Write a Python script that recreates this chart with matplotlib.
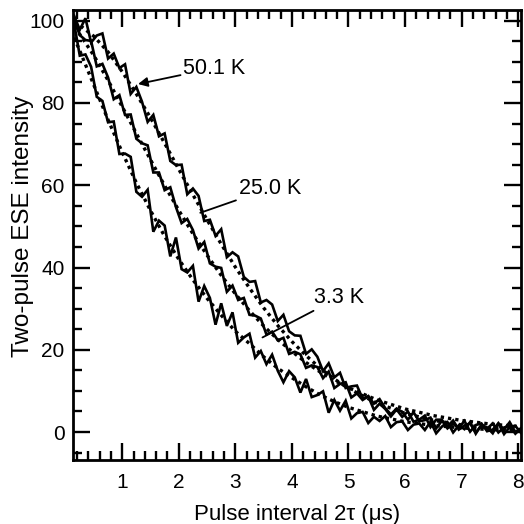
import numpy as np
import matplotlib
matplotlib.use("Agg")
import matplotlib.pyplot as plt
from matplotlib.ticker import MultipleLocator

plt.rcParams['font.family'] = ['Liberation Sans', 'DejaVu Sans']

# sampling grid of the measured traces (us)
t = np.round(0.15 + 0.1 * np.arange(80), 2)

y_50K = [101.2, 97.8, 100.6, 94.7, 96.4, 96.9, 90.8, 92.0, 88.5, 89.4,
         82.2, 83.9, 80.3, 75.4, 77.1, 71.9, 72.6, 65.9, 64.9, 65.0,
         57.8, 59.2, 57.4, 51.3, 51.6, 47.7, 49.3, 42.5, 43.7, 42.7,
         37.7, 36.5, 36.7, 31.5, 32.1, 31.0, 27.0, 28.5, 24.5, 23.5,
         23.4, 19.0, 20.1, 18.3, 14.8, 16.7, 13.3, 14.4, 10.7, 11.1,
         11.3, 8.1, 8.7, 6.9, 8.0, 5.8, 4.3, 5.7, 4.9, 3.0,
         4.8, 2.6, 2.9, 3.5, 0.9, 2.7, 1.4, 2.8, 0.6, 1.6,
         2.1, -0.1, 1.5, 0.8, 2.1, -0.1, 1.1, 1.5, -0.4, 0.9]
y_25K = [100.2, 96.5, 95.3, 95.1, 88.9, 89.5, 86.2, 80.9, 81.9, 77.1,
         77.2, 71.3, 70.2, 69.7, 63.1, 63.1, 58.8, 59.5, 54.7, 50.8,
         51.8, 49.1, 44.6, 46.2, 41.0, 40.2, 39.9, 34.1, 35.6, 32.1,
         32.6, 28.5, 28.3, 27.6, 23.7, 24.4, 22.3, 22.9, 19.0, 19.5,
         18.9, 15.6, 16.2, 15.8, 13.1, 14.7, 10.7, 11.7, 12.1, 8.4,
         9.4, 7.8, 8.7, 5.4, 6.9, 5.6, 3.8, 5.5, 3.7, 5.0,
         2.5, 3.0, 4.0, 1.2, 3.0, 3.0, 0.9, 2.0, 1.0, 2.7,
         0.1, 1.7, 2.1, 0.2, 0.6, 2.1, -0.5, 1.2, 1.5, -0.2]
y_3K = [99.3, 91.5, 91.8, 88.8, 81.5, 80.5, 75.3, 75.5, 67.6, 67.7,
        66.9, 58.4, 57.2, 58.9, 48.7, 51.4, 50.2, 42.7, 47.3, 39.6,
        38.8, 40.4, 31.7, 35.5, 32.6, 26.1, 31.3, 25.8, 29.1, 21.7,
        23.0, 23.9, 18.1, 19.7, 16.5, 18.8, 14.9, 12.1, 14.8, 13.3,
        9.6, 12.9, 8.5, 9.0, 9.9, 4.7, 7.8, 5.2, 7.6, 3.3,
        4.6, 4.9, 2.2, 3.7, 2.7, 3.9, 1.2, 2.4, 2.6, 0.5,
        1.8, 2.1, 0.5, 2.5, -0.3, 1.3, 2.4, -0.1, 1.6, 0.7,
        2.4, -0.4, 1.8, 1.1, -0.3, 2.1, 0.6, 2.4, 0.0, 0.9]

# fitted curves (dashed)
t_fit = [0.15, 0.25, 0.5, 0.75, 1.0, 1.25, 1.5, 1.75, 2.0, 2.25, 2.5, 2.75,
         3.0, 3.25, 3.5, 3.75, 4.0, 4.25, 4.5, 4.75, 5.0, 5.5, 6.0, 6.5,
         7.0, 7.5, 8.0, 8.05]
fit_50K = [99.5, 98.9, 96.2, 92.4, 87.6, 82.2, 76.4, 70.2, 63.9, 57.7, 51.6, 45.7,
           40.1, 35.0, 30.2, 25.9, 22.0, 18.6, 15.5, 12.9, 10.6, 7.05, 4.54, 2.85,
           1.74, 1.03, 0.59, 0.56]
fit_25K = [98.4, 96.7, 91.5, 85.5, 79.1, 72.6, 66.2, 59.9, 53.9, 48.2, 43.0, 38.1,
           33.6, 29.5, 25.8, 22.5, 19.6, 16.9, 14.6, 12.55, 10.76, 7.83, 5.62, 4.0,
           2.81, 1.96, 1.35, 1.3]
fit_3K = [95.9, 92.7, 84.3, 75.9, 68.0, 60.6, 53.85, 47.6, 42.0, 37.0, 32.5, 28.4,
          24.5, 21.5, 18.3, 15.5, 13.2, 11.0, 9.0, 7.4, 6.0, 3.9, 2.5, 1.6,
          1.0, 0.6, 0.4, 0.4]

fig = plt.figure(figsize=(5.24, 5.24), dpi=100)
ax = fig.add_axes([0.1393, 0.1221, 0.855, 0.8588])

for y in (y_50K, y_25K, y_3K):
    ax.plot(t, y, color='black', lw=1.9, solid_joinstyle='miter')
for f in (fit_50K, fit_25K, fit_3K):
    ax.plot(t_fit, f, color='black', lw=2.4, linestyle=(0, (1.0, 1.2)))

ax.set_xlim(0.13, 8.05)
ax.set_ylim(-6.8, 102.6)

ax.xaxis.set_major_locator(MultipleLocator(1))
ax.xaxis.set_minor_locator(MultipleLocator(0.2))
ax.yaxis.set_major_locator(MultipleLocator(20))
ax.yaxis.set_minor_locator(MultipleLocator(5))

ax.tick_params(which='both', direction='in', top=True, right=True, width=1.7,
               labelsize=15)
ax.tick_params(which='major', length=12)
ax.tick_params(which='minor', length=6.5)
ax.tick_params(axis='x', which='major', pad=9)
ax.tick_params(axis='y', which='major', pad=6)
for s in ax.spines.values():
    s.set_linewidth(2)

ax.set_xlabel('Pulse interval 2\u03c4 (\u03bcs)', fontsize=16)
ax.set_ylabel('Two-pulse ESE intensity', fontsize=17.5)
ax.xaxis.set_label_coords(0.5, -0.098)
ax.yaxis.set_label_coords(-0.087, 0.52)

ax.annotate('50.1 K', xy=(1.28, 84.6), xytext=(2.08, 88.5), fontsize=15.5,
            ha='left', va='center',
            arrowprops=dict(arrowstyle='-|>', color='black', lw=1.3,
                            mutation_scale=14, shrinkA=0, shrinkB=0))
ax.annotate('25.0 K', xy=(2.38, 53.3), xytext=(3.06, 59.2), fontsize=15.5,
            ha='left', va='center',
            arrowprops=dict(arrowstyle='-', color='black', lw=1.3,
                            shrinkA=0, shrinkB=0))
ax.annotate('3.3 K', xy=(3.48, 23.0), xytext=(4.39, 32.7), fontsize=15.5,
            ha='left', va='center',
            arrowprops=dict(arrowstyle='-', color='black', lw=1.3,
                            shrinkA=0, shrinkB=0))

fig.savefig('out.png', dpi=100)
